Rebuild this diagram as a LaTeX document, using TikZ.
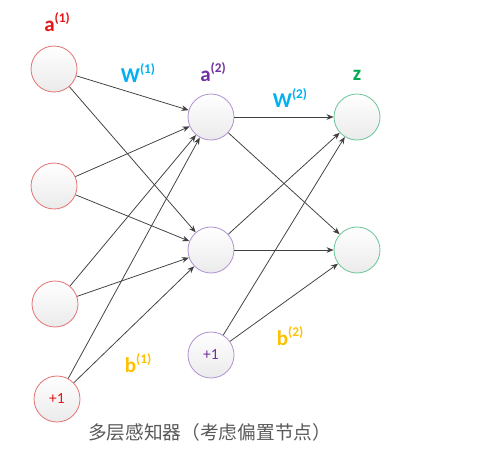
\documentclass[tikz,border=0pt]{standalone}
\usepackage{fontspec}
\usepackage{xcolor}
\usepackage{tikz}
\usetikzlibrary{arrows.meta, positioning, calc}

\newfontfamily\labelfont{Carlito}
\newfontfamily\cjkfont{Noto Sans CJK SC}

\definecolor{inred}{RGB}{230,20,20}
\definecolor{inredline}{RGB}{228,120,120}
\definecolor{hidpurple}{RGB}{112,48,160}
\definecolor{hidpurpleline}{RGB}{178,150,210}
\definecolor{outgreen}{RGB}{0,170,80}
\definecolor{outgreenline}{RGB}{110,200,155}
\definecolor{wblue}{RGB}{0,176,240}
\definecolor{byellow}{RGB}{255,192,0}
\definecolor{edgegray}{RGB}{64,64,64}
\definecolor{capgray}{RGB}{89,89,89}

% label with superscript layer index
\newcommand{\layerlabel}[2]{{\labelfont\bfseries\fontsize{15}{18}\selectfont #1\raisebox{0.9ex}{\fontsize{9.5}{10}\selectfont(#2)}}}

\tikzset{
    neuron/.style={circle, draw, line width=0.6pt, minimum size=1.15cm, inner sep=0pt,
        top color=white, bottom color=black!8, font=\labelfont\fontsize{11}{12}\selectfont},
    inneuron/.style={neuron, draw=inredline, text=inred},
    hidneuron/.style={neuron, draw=hidpurpleline, text=hidpurple},
    outneuron/.style={neuron, draw=outgreenline},
    conn/.style={->, draw=edgegray, line width=0.55pt, >={Stealth[length=5pt, width=4pt]}}
}

\begin{document}
\begin{tikzpicture}
    \useasboundingbox (0,0) rectangle (12.05,-11.4);

    % input layer
    \node[inneuron] (in1) at (1.35,-1.725) {};
    \node[inneuron] (in2) at (1.35,-4.65) {};
    \node[inneuron] (in3) at (1.375,-7.6) {};
    \node[inneuron] (inb) at (1.425,-9.975) {+1};

    % hidden layer
    \node[hidneuron] (hid1) at (5.275,-2.925) {};
    \node[hidneuron] (hid2) at (5.275,-6.25) {};
    \node[hidneuron] (hidb) at (5.275,-8.875) {+1};

    % output layer
    \node[outneuron] (out1) at (8.925,-2.925) {};
    \node[outneuron] (out2) at (8.925,-6.25) {};

    \foreach \src in {in1,in2,in3,inb}
        \foreach \dst in {hid1,hid2}
            \draw[conn] (\src) -- (\dst);
    \foreach \src in {hid1,hid2,hidb}
        \foreach \dst in {out1,out2}
            \draw[conn] (\src) -- (\dst);

    % labels
    \node[text=inred] (la1) at (1.425,-0.55) {\layerlabel{a}{1}};
    \node[text=wblue] (lw1) at (3.45,-1.825) {\layerlabel{W}{1}};
    \node[text=hidpurple] (la2) at (5.325,-1.8) {\layerlabel{a}{2}};
    \node[text=wblue] (lw2) at (7.25,-2.45) {\layerlabel{W}{2}};
    \node[text=outgreen] (lz) at (8.925,-1.875) {{\labelfont\bfseries\fontsize{15}{18}\selectfont z}};
    \node[text=byellow] (lb1) at (3.45,-9.075) {\layerlabel{b}{1}};
    \node[text=byellow] (lb2) at (7.25,-8.4) {\layerlabel{b}{2}};

    \node[text=capgray, font=\cjkfont\fontsize{13.3}{15}\selectfont] (cap) at (5.24,-10.8) {多层感知器（考虑偏置节点）};
\end{tikzpicture}
\end{document}
